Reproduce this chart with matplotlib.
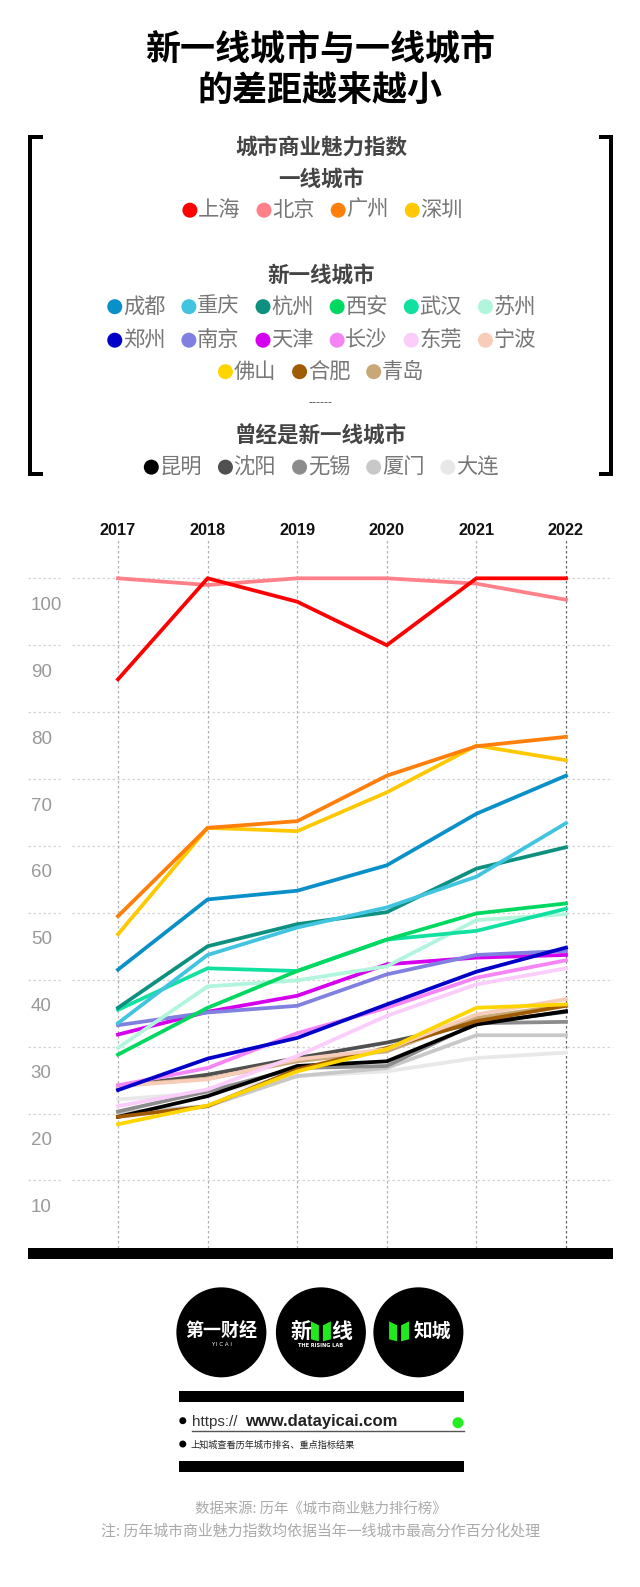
import matplotlib
matplotlib.use('Agg')
import matplotlib.pyplot as plt
from matplotlib.patches import Rectangle, Circle, Polygon

CJK = ['Noto Sans CJK SC', 'DejaVu Sans']
plt.rcParams['font.family'] = CJK

years = [2017, 2018, 2019, 2020, 2021, 2022]
y_ticks = [100, 90, 80, 70, 60, 50, 40, 30, 20, 10]

# series values
shanghai = [84.9, 100, 96.5, 90, 100, 100]
beijing = [100, 99, 100, 100, 99.2, 96.8]
guangzhou = [49.5, 62.7, 63.7, 70.5, 74.9, 76.3]
shenzhen = [46.8, 62.7, 62.2, 68, 75, 72.8]
chengdu = [41.5, 52, 53.3, 57.1, 64.8, 70.5]
chongqing = [33.5, 43.7, 47.8, 50.8, 55.4, 63.4]
hangzhou = [35.8, 45, 48.3, 50.1, 56.6, 59.8]
xian = [28.8, 35.8, 41.3, 46, 49.9, 51.4]
wuhan = [35.5, 41.7, 41.3, 46, 47.3, 50.6]
suzhou = [29.8, 39, 39.9, 42, 48.9, 49.8]
zhengzhou = [23.5, 28.2, 31.3, 36.3, 41.2, 44.8]
nanjing = [33.2, 35.1, 36.1, 40.8, 43.7, 44.3]
tianjin = [31.8, 35.2, 37.6, 42.3, 43.3, 43.7]
changsha = [24.2, 26.8, 32, 35.8, 40.3, 42.9]
dongguan = [21.1, 23.6, 28.6, 34.6, 39.3, 41.7]
ningbo = [24.1, 25.1, 28.1, 29.6, 34.8, 37.1]
foshan = [18.4, 21.2, 26.3, 29.6, 35.8, 36.3]
hefei = [19.5, 21.1, 26.6, 29.8, 33.8, 36.1]
qingdao = [24.2, 25.2, 27.8, 29.3, 34.3, 36.2]
kunming = [19.5, 22.6, 27.1, 27.8, 33.3, 35.3]
shenyang = [24, 25.8, 28.3, 30.6, 33.5, 35.2]
wuxi = [20.3, 23.3, 26.8, 27.1, 33.5, 33.7]
xiamen = [20.1, 21.1, 25.6, 26.8, 31.7, 31.7]
dalian = [22.1, 23.1, 25.6, 26.3, 28.3, 29.1]

series = [
    ('大连', dalian, '#e8e8e8'), ('厦门', xiamen, '#c8c8c8'), ('无锡', wuxi, '#8c8c8c'),
    ('沈阳', shenyang, '#505050'), ('昆明', kunming, '#000000'), ('青岛', qingdao, '#c9a877'),
    ('合肥', hefei, '#a05a00'), ('宁波', ningbo, '#f7ccb8'), ('佛山', foshan, '#ffd500'),
    ('东莞', dongguan, '#fbcdfb'), ('长沙', changsha, '#f585f5'), ('天津', tianjin, '#d400ee'),
    ('南京', nanjing, '#8080e0'), ('郑州', zhengzhou, '#0000c8'), ('苏州', suzhou, '#b0f5dc'),
    ('武汉', wuhan, '#10e0a0'), ('西安', xian, '#00d860'), ('杭州', hangzhou, '#0d9080'),
    ('重庆', chongqing, '#40c4e0'), ('成都', chengdu, '#0a90c8'), ('深圳', shenzhen, '#ffc800'),
    ('广州', guangzhou, '#ff7f0a'), ('北京', beijing, '#ff8088'), ('上海', shanghai, '#ff0000'),
]
colors = {n: c for n, _, c in series}

legend_rows = [
    (['上海', '北京', '广州', '深圳'], 207, 187),
    (['成都', '重庆', '杭州', '西安', '武汉', '苏州'], 302, 113),
    (['郑州', '南京', '天津', '长沙', '东莞', '宁波'], 335, 113),
    (['佛山', '合肥', '青岛'], 366, 222),
    (['昆明', '沈阳', '无锡', '厦门', '大连'], 460, 149),
]
headings = [('城市商业魅力指数', 146), ('一线城市', 177), ('新一线城市', 272), ('曾经是新一线城市', 429)]

K = 1.0155
W, H = 640, 1587
fig = plt.figure(figsize=(W / 100, H / 100), dpi=100, facecolor='white')

# overlay in pixel space for layout furniture
ov = fig.add_axes([0, 0, 1, 1])
ov.set_xlim(0, W); ov.set_ylim(H, 0); ov.axis('off')

def P(v):
    return v * K

def rect(x0, y0, x1, y1, c='black'):
    ov.add_patch(Rectangle((P(x0), P(y0)), P(x1 - x0), P(y1 - y0), fc=c, ec='none'))

# title
for t, y in [('新一线城市与一线城市', 48), ('的差距越来越小', 89)]:
    ov.text(P(315.5), P(y), t, fontsize=25.2, fontweight='bold', ha='center', va='center', color='#000')

# brackets
for x0, x1, xs in [(28, 42, 28), (590, 604, 600)]:
    rect(x0, 133, x1, 137)
    rect(x0, 465, x1, 469)
    rect(xs, 133, xs + 4, 469)

for t, y in headings:
    ov.text(P(316), P(y), t, fontsize=15.5, fontweight='bold', ha='center', va='center', color='#444')
ov.text(P(316), P(396), '------', fontsize=8, ha='center', va='center', color='#444', family='DejaVu Sans')

for names, y, x0 in legend_rows:
    for i, n in enumerate(names):
        x = x0 + i * 73
        ov.add_patch(Circle((P(x), P(y)), 7.5, fc=colors[n], ec='none'))
        ov.text(P(x + 8), P(y), n, fontsize=15.3, ha='left', va='center', color='#777')

# chart
ax_l, ax_r, ax_t, ax_b = P(28), P(604), P(532), P(1229)
ax = fig.add_axes([ax_l / W, 1 - ax_b / H, (ax_r - ax_l) / W, (ax_b - ax_t) / H])
ax.patch.set_alpha(0)
x_px = 89.6
x0_px = 118.0
ax.set_xlim(2017 - (x0_px - ax_l) / x_px, 2017 + (ax_r - x0_px) / x_px)
y100_px, y_scale = 578.3, 6.69
ax.set_ylim(100 - (ax_b - y100_px) / y_scale, 100 + (y100_px - ax_t) / y_scale)
for s in ax.spines.values():
    s.set_visible(False)
ax.set_xticks([]); ax.set_yticks([])

ytr = ax.get_yaxis_transform()
xtr = ax.get_xaxis_transform()
for v in y_ticks:
    ax.plot([0, 0.054], [v, v], transform=ytr, color='#d4d4d4', lw=0.9, ls=(0, (2, 2)), zorder=1)
    ax.plot([0.074, 1], [v, v], transform=ytr, color='#d4d4d4', lw=0.9, ls=(0, (2, 2)), zorder=1)
    ax.annotate(str(v), (0.004, v), xycoords=ytr, xytext=(0, -27), textcoords='offset pixels',
                fontsize=13.5, family='Liberation Sans', color='#999', va='center', ha='left')
for yr in years:
    c = '#666' if yr == 2022 else '#b0b0b0'
    ax.axvline(yr, color=c, lw=0.9, ls=(0, (2, 2)), zorder=1)
    ax.annotate(str(yr), (yr, 1), xycoords=xtr, xytext=(0, 10),
                textcoords='offset pixels', fontsize=11.7, fontweight='bold',
                family='Liberation Sans', color='#111', ha='center', va='center')
for name, vals, c in series:
    ax.plot(years, vals, color=c, lw=2.7, solid_joinstyle='miter', zorder=3, label=name)

# bottom bar
rect(28, 1229, 604, 1240)

# logos
for x in (218, 316, 412):
    ov.add_patch(Circle((P(x), P(1312)), 45, fc='black', ec='none'))
ov.text(P(218), P(1311), '第一财经', fontsize=13, fontweight='bold', color='white', ha='center', va='center')
ov.text(P(218), P(1324), 'Y I C A I', fontsize=4, color='white', ha='center', va='center', family='DejaVu Sans')
ov.text(P(296), P(1311), '新', fontsize=15, fontweight='bold', color='white', ha='center', va='center')
ov.text(P(336), P(1311), '线', fontsize=15, fontweight='bold', color='white', ha='center', va='center')
ov.text(P(316), P(1325), 'THE RISING LAB', fontsize=3.6, fontweight='bold', color='white', ha='center', va='center', family='DejaVu Sans')
ov.text(P(426), P(1311), '知城', fontsize=13.5, fontweight='bold', color='white', ha='center', va='center')
for cx in (316, 393):
    cx = P(cx)
    cy = P(1311)
    ov.add_patch(Polygon([(cx - 10, cy - 10), (cx - 2, cy - 6), (cx - 2, cy + 10), (cx - 10, cy + 8)], fc='#22e81e', ec='none'))
    ov.add_patch(Polygon([(cx + 2, cy - 6), (cx + 10, cy - 10), (cx + 10, cy + 8), (cx + 2, cy + 10)], fc='#22e81e', ec='none'))

# link block
rect(176, 1370, 457, 1381)
rect(176, 1439, 457, 1450)
ov.add_patch(Circle((P(180), P(1399)), 3.5, fc='black', ec='none'))
ov.add_patch(Circle((P(180), P(1422)), 3.5, fc='black', ec='none'))
ov.text(P(189), P(1400), 'https://', fontsize=11, family='Liberation Sans', color='#333', ha='left', va='center')
ov.text(P(241), P(1400), 'www.datayicai.com', fontsize=12, fontweight='bold', family='Liberation Sans', color='#222', ha='left', va='center')
ov.plot([P(189), P(457)], [P(1409), P(1409)], color='#555', lw=1)
ov.add_patch(Circle((P(451), P(1401)), 5.5, fc='#22ee22', ec='none'))
ov.text(P(188), P(1423), '上知城查看历年城市排名、重点指标结果', fontsize=6.6, color='#222', ha='left', va='center')

# source
ov.text(P(316), P(1487), '数据来源: 历年《城市商业魅力排行榜》', fontsize=10.4, color='#aaa', ha='center', va='center')
ov.text(P(316), P(1508), '注: 历年城市商业魅力指数均依据当年一线城市最高分作百分化处理', fontsize=10.75, color='#aaa', ha='center', va='center')

fig.savefig('out.png', dpi=100, facecolor='white')
